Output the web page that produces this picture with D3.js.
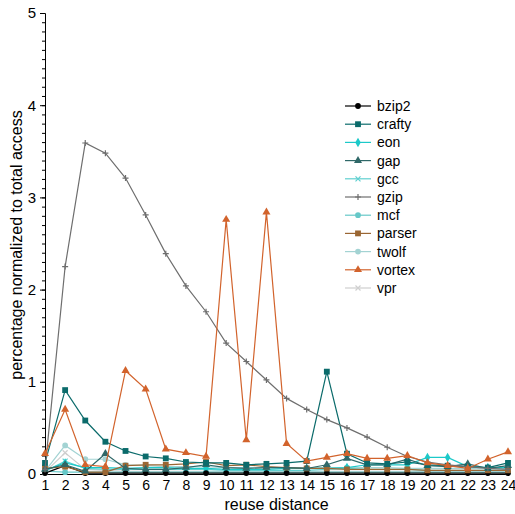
<!DOCTYPE html>
<html>
<head>
<meta charset="utf-8">
<script src="https://cdn.jsdelivr.net/npm/d3@7"></script>
<style>
  body { margin: 0; background: #fff; }
  text { font-family: "Liberation Sans", Arial, sans-serif; }
</style>
</head>
<body>
<div id="chart"></div>
<script>
const distances = d3.range(1, 25);

const bzip2  = [0.01, 0.09, 0.01, 0.01, 0.01, 0.01, 0.01, 0.01, 0.01, 0.01, 0.01, 0.01, 0.01, 0.01, 0.01, 0.01, 0.01, 0.01, 0.01, 0.01, 0.01, 0.01, 0.01, 0.01];
const crafty = [0.12, 0.91, 0.58, 0.35, 0.25, 0.19, 0.17, 0.13, 0.12, 0.12, 0.10, 0.11, 0.12, 0.14, 1.11, 0.22, 0.12, 0.11, 0.13, 0.10, 0.09, 0.08, 0.07, 0.12];
const eon    = [0.04, 0.12, 0.07, 0.07, 0.06, 0.07, 0.07, 0.06, 0.06, 0.05, 0.05, 0.05, 0.06, 0.06, 0.06, 0.07, 0.10, 0.10, 0.10, 0.18, 0.18, 0.08, 0.07, 0.07];
const gap    = [0.05, 0.10, 0.03, 0.22, 0.06, 0.05, 0.05, 0.07, 0.10, 0.07, 0.06, 0.07, 0.07, 0.06, 0.10, 0.17, 0.10, 0.10, 0.16, 0.09, 0.08, 0.11, 0.06, 0.09];
const gcc    = [0.03, 0.14, 0.06, 0.05, 0.05, 0.05, 0.05, 0.05, 0.05, 0.04, 0.04, 0.04, 0.04, 0.04, 0.05, 0.06, 0.05, 0.05, 0.05, 0.04, 0.04, 0.04, 0.04, 0.04];
const gzip   = [0.05, 2.25, 3.59, 3.48, 3.21, 2.81, 2.39, 2.04, 1.76, 1.42, 1.22, 1.02, 0.82, 0.70, 0.59, 0.50, 0.40, 0.29, 0.19, 0.13, 0.10, 0.08, 0.06, 0.05];
const mcf    = [0.03, 0.02, 0.02, 0.02, 0.02, 0.02, 0.02, 0.02, 0.02, 0.02, 0.02, 0.02, 0.02, 0.02, 0.02, 0.02, 0.02, 0.02, 0.02, 0.02, 0.02, 0.02, 0.02, 0.02];
const parser = [0.06, 0.08, 0.02, 0.02, 0.09, 0.10, 0.10, 0.11, 0.13, 0.09, 0.10, 0.08, 0.07, 0.06, 0.06, 0.05, 0.05, 0.05, 0.05, 0.04, 0.04, 0.04, 0.04, 0.04];
const twolf  = [0.03, 0.31, 0.16, 0.16, 0.10, 0.09, 0.08, 0.08, 0.08, 0.07, 0.07, 0.07, 0.07, 0.07, 0.07, 0.07, 0.07, 0.07, 0.06, 0.06, 0.06, 0.06, 0.06, 0.06];
const vortex = [0.22, 0.70, 0.10, 0.08, 1.12, 0.92, 0.27, 0.23, 0.19, 2.76, 0.37, 2.84, 0.33, 0.14, 0.18, 0.22, 0.17, 0.17, 0.20, 0.12, 0.09, 0.06, 0.16, 0.24];
const vpr    = [0.02, 0.23, 0.05, 0.04, 0.03, 0.03, 0.03, 0.03, 0.03, 0.03, 0.03, 0.03, 0.03, 0.03, 0.03, 0.03, 0.03, 0.03, 0.03, 0.03, 0.03, 0.03, 0.03, 0.03];

const seriesNames = ["bzip2", "crafty", "eon", "gap", "gcc", "gzip", "mcf", "parser", "twolf", "vortex", "vpr"];
const seriesValues = [bzip2, crafty, eon, gap, gcc, gzip, mcf, parser, twolf, vortex, vpr];
const seriesColors = ["#000000", "#0b6b6b", "#1cc9c9", "#2f6868", "#5fd0d0", "#6e6e6e", "#66c8c8", "#9a6633", "#a3d3d3", "#d2632c", "#cfcfcf"];
const seriesMarkers = ["circle", "square", "diamond", "triangle", "cross", "plus", "circle", "square", "circle", "triangle", "cross"];

const W = 515, H = 514;
const margin = { top: 13, right: 7, bottom: 40, left: 45 };

const svg = d3.select('#chart').append('svg')
    .attr('width', W)
    .attr('height', H);

const x = d3.scaleLinear().domain([1, 24]).range([margin.left, W - margin.right]);
const y = d3.scaleLinear().domain([0, 5]).range([H - margin.bottom, margin.top]);

// minor ticks on the y axis
svg.append('g')
    .attr('transform', `translate(${margin.left},0)`)
    .call(d3.axisLeft(y).tickValues(d3.range(0, 50).map(d => d / 10)).tickSize(3).tickFormat(''))
    .call(g => g.select('.domain').remove())
    .call(g => g.selectAll('line').attr('stroke', '#000'));

// y axis
svg.append('g')
    .attr('transform', `translate(${margin.left},0)`)
    .call(d3.axisLeft(y).tickValues([0, 1, 2, 3, 4, 5]).tickSize(5).tickPadding(4).tickFormat(d3.format('d')))
    .call(g => g.selectAll('text').style('font-size', '15px').attr('fill', '#000'));

// x axis
svg.append('g')
    .attr('transform', `translate(0,${y(0)})`)
    .call(d3.axisBottom(x).tickValues(distances).tickSize(0).tickPadding(6).tickFormat(d3.format('d')))
    .call(g => g.selectAll('text').style('font-size', '14px').attr('fill', '#000'));

// axis titles
svg.append('text')
    .attr('x', (margin.left + W - margin.right) / 2)
    .attr('y', H - 4)
    .attr('text-anchor', 'middle')
    .style('font-size', '16px')
    .text('reuse distance');

svg.append('text')
    .attr('transform', 'rotate(-90)')
    .attr('x', -245)
    .attr('y', 22)
    .attr('text-anchor', 'middle')
    .style('font-size', '16px')
    .text('percentage normalized to total access');

function markerPath(type) {
    switch (type) {
        case 'circle': return d3.symbol(d3.symbolCircle, 26)();
        case 'square': return d3.symbol(d3.symbolSquare, 34)();
        case 'diamond': return d3.symbol(d3.symbolDiamond, 26)();
        case 'triangle': return d3.symbol(d3.symbolTriangle, 28)();
        case 'cross': return 'M-2.5,-2.5L2.5,2.5M-2.5,2.5L2.5,-2.5';
        case 'plus': return 'M-3,0L3,0M0,-3L0,3';
    }
}

const line = d3.line()
    .x((d, i) => x(distances[i]))
    .y(d => y(d));

// draw the busy low series first so the spiky ones stay on top
const drawOrder = [10, 8, 6, 4, 2, 0, 7, 3, 1, 5, 9];
drawOrder.forEach(k => {
    const g = svg.append('g').attr('class', 'series');
    g.append('path')
        .datum(seriesValues[k])
        .attr('d', line)
        .attr('fill', 'none')
        .attr('stroke', seriesColors[k])
        .attr('stroke-width', 1.2);
    const stroked = seriesMarkers[k] === 'cross' || seriesMarkers[k] === 'plus';
    g.selectAll('path.mark')
        .data(seriesValues[k])
        .join('path')
        .attr('class', 'mark')
        .attr('transform', (d, i) => `translate(${x(distances[i])},${y(d)})`)
        .attr('d', markerPath(seriesMarkers[k]))
        .attr('fill', stroked ? 'none' : seriesColors[k])
        .attr('stroke', stroked ? seriesColors[k] : 'none')
        .attr('stroke-width', 1.2);
});

// legend
const legend = svg.append('g').attr('transform', 'translate(345,106)');
seriesNames.forEach((name, k) => {
    const row = legend.append('g').attr('transform', `translate(0,${k * 18.2})`);
    row.append('line')
        .attr('x1', 0).attr('x2', 26)
        .attr('stroke', seriesColors[k])
        .attr('stroke-width', 1.2);
    const stroked = seriesMarkers[k] === 'cross' || seriesMarkers[k] === 'plus';
    row.append('path')
        .attr('transform', 'translate(13,0)')
        .attr('d', markerPath(seriesMarkers[k]))
        .attr('fill', stroked ? 'none' : seriesColors[k])
        .attr('stroke', stroked ? seriesColors[k] : 'none')
        .attr('stroke-width', 1.2);
    row.append('text')
        .attr('x', 32)
        .attr('dy', '0.35em')
        .style('font-size', '14px')
        .text(name);
});
</script>
</body>
</html>
